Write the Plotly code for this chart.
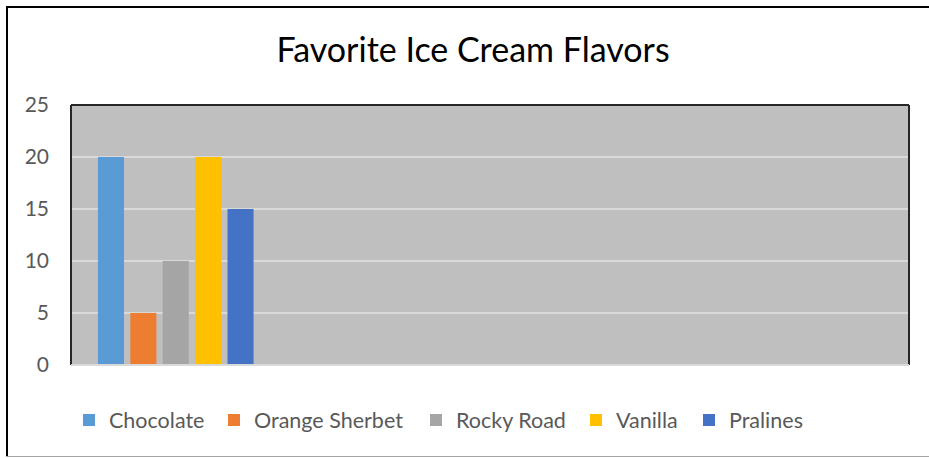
import plotly.graph_objects as go

flavors = ["Chocolate", "Orange Sherbet", "Rocky Road", "Vanilla", "Pralines"]
votes = [20, 5, 10, 20, 15]
colors = ["#5B9BD5", "#ED7D31", "#A5A5A5", "#FFC000", "#4472C4"]
y_ticks = [0, 5, 10, 15, 20, 25]
title_text = "Favorite Ice Cream Flavors"

W, H = 929, 458
ML, MR, MT, MB = 71, 20, 105, 93
PW, PH = W - ML - MR, H - MT - MB


def px_x(px):
    return (px - ML) / PW


def px_y(py):
    return (H - MB - py) / PH


# legend text starting positions (pixels)
legend_text_x = [109, 254, 456, 616, 729]

fig = go.Figure()
legend_names = ["legend"] + [f"legend{i}" for i in range(2, 6)]
for i, (name, v, c) in enumerate(zip(flavors, votes, colors)):
    fig.add_trace(go.Bar(
        x=[0], y=[v], name=name, marker=dict(color=c, line=dict(width=0)),
        legend=legend_names[i], hoverinfo="name+y",
    ))

layout_legends = {}
for i, ln in enumerate(legend_names):
    layout_legends[ln] = dict(
        x=px_x(legend_text_x[i] - 40), xanchor="left",
        y=px_y(420), yanchor="middle",
        orientation="h", bgcolor="rgba(0,0,0,0)", borderwidth=0,
        font=dict(family="Lato", size=21.5, color="#595959"),
        itemwidth=30, itemclick=False, itemdoubleclick=False,
    )

shapes = [
    # plot area border
    dict(type="line", xref="paper", yref="paper", x0=0, x1=1, y0=1, y1=1,
         line=dict(color="#262626", width=2), layer="above"),
    dict(type="line", xref="paper", yref="paper", x0=0, x1=0, y0=0, y1=1,
         line=dict(color="#262626", width=2), layer="above"),
    dict(type="line", xref="paper", yref="paper", x0=1, x1=1, y0=0, y1=1,
         line=dict(color="#262626", width=2), layer="above"),
    dict(type="line", xref="paper", yref="paper", x0=0, x1=1, y0=0, y1=0,
         line=dict(color="#D9D9D9", width=2), layer="above"),
    # outer chart border
    dict(type="line", xref="paper", yref="paper", x0=px_x(6), x1=px_x(940),
         y0=px_y(7), y1=px_y(7), line=dict(color="#000000", width=2)),
    dict(type="line", xref="paper", yref="paper", x0=px_x(7), x1=px_x(7),
         y0=px_y(6), y1=px_y(457), line=dict(color="#000000", width=2)),
    dict(type="line", xref="paper", yref="paper", x0=px_x(6), x1=px_x(940),
         y0=px_y(456.5), y1=px_y(456.5), line=dict(color="#A6A6A6", width=1)),
]

fig.update_layout(
    width=W, height=H,
    margin=dict(l=ML, r=MR, t=MT, b=MB, pad=0),
    paper_bgcolor="white", plot_bgcolor="#BFBFBF",
    barmode="group", bargap=0.227, bargroupgap=0.195,
    title=dict(text=title_text, x=px_x(473), xanchor="center", xref="paper",
               y=1 - 50 / H, yanchor="middle", yref="container",
               font=dict(family="Lato", size=34, color="#000000")),
    xaxis=dict(range=[-0.5, 3.5], showticklabels=False, showgrid=False,
               zeroline=False, showline=False, ticks="", fixedrange=True),
    yaxis=dict(range=[0, 25], tickvals=y_ticks, showgrid=True,
               gridcolor="#D9D9D9", gridwidth=1.5, zeroline=False,
               showline=False, ticks="", ticklabelstandoff=21,
               tickfont=dict(family="Lato", size=21, color="#595959"),
               fixedrange=True),
    shapes=shapes,
    showlegend=True,
    **layout_legends,
)

fig.write_html(
    "out.html",
    config={"displayModeBar": False},
    post_script="document.body.style.margin='0';document.body.style.overflow='hidden';",
)
